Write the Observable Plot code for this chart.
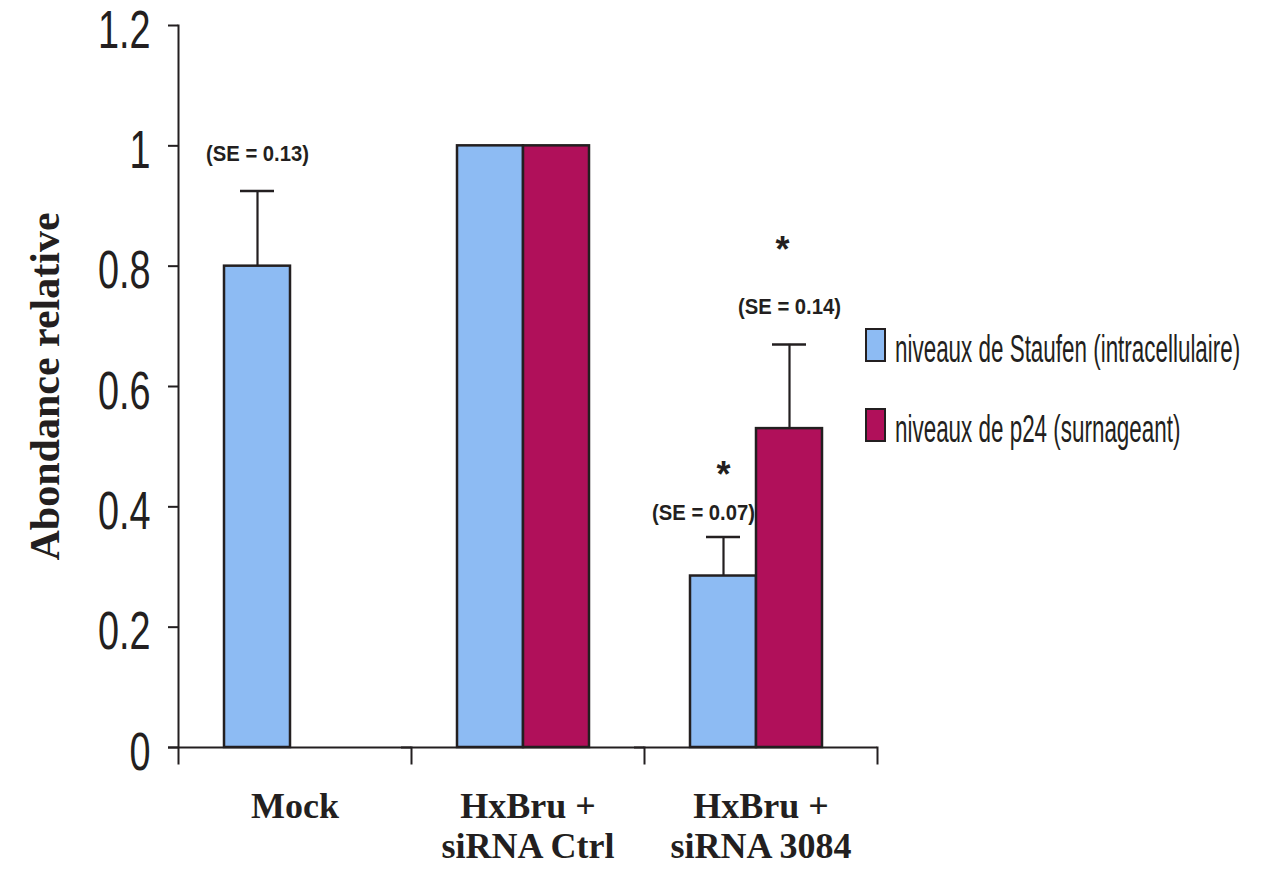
<!DOCTYPE html>
<html>
<head>
<meta charset="utf-8">
<script src="https://cdn.jsdelivr.net/npm/d3@7"></script>
<script src="https://cdn.jsdelivr.net/npm/@observablehq/plot@0.6"></script>
<style>
html, body { margin: 0; padding: 0; background: #fff; }
#wrap { position: relative; width: 1272px; height: 871px; overflow: hidden; }
#legend { position: absolute; left: 865px; top: 328px; width: 400px; font-family: "Liberation Sans Narrow", "Liberation Sans", sans-serif; font-size: 38px; color: #231f20; }
.item { display: flex; align-items: baseline; white-space: nowrap; height: 80px; }
.sw { width: 17px; height: 30px; border: 2.5px solid #231f20; flex: none; }
.lab { margin-left: 9px; display: inline-block; flex: none; transform-origin: left bottom; transform: scaleX(0.59); }
</style>
</head>
<body>
<div id="wrap"></div>
<script>
// ---- data ----
const groupKeys = ["Mock", "Ctrl", "3084"];
const groupLabels = ["Mock", "HxBru +\nsiRNA Ctrl", "HxBru +\nsiRNA 3084"];
const seriesNames = ["niveaux de Staufen (intracellulaire)", "niveaux de p24 (surnageant)"];
const seriesColors = ["#8dbbf3", "#b0105a"];
const barGroup = ["Mock", "Ctrl", "Ctrl", "3084", "3084"];
const barSeries = [0, 0, 1, 0, 1];
const barValue = [0.80, 1.00, 1.00, 0.285, 0.53];
const barSE = [0.125, 0, 0, 0.065, 0.14];
const barSELabel = ["(SE = 0.13)", null, null, "(SE = 0.07)", "(SE = 0.14)"];
const barSignificant = [false, false, false, true, true];
const yTicks = [0, 0.2, 0.4, 0.6, 0.8, 1, 1.2];
const yLabel = "Abondance relative";

// ---- table ----
const rows = barValue.map((v, i) => ({
  group: barGroup[i],
  series: seriesNames[barSeries[i]],
  value: v,
  se: barSE[i],
  top: v + barSE[i],
  label: barSELabel[i],
  sig: barSignificant[i]
}));
const errRows = rows.filter(d => d.se > 0);
const ink = "#231f20";

const W = 1272, H = 871, mL = 178, mR = 395, mT = 25, mB = 124;
const innerH = H - mT - mB;

const textFont = "Liberation Sans Narrow, Liberation Sans, sans-serif";
const serif = "Liberation Serif, Times New Roman, serif";

const chart = Plot.plot({
  width: W, height: H,
  marginLeft: mL, marginRight: mR, marginTop: mT, marginBottom: mB,
  style: { fontFamily: textFont, color: ink, background: "white", overflow: "visible" },
  fx: { domain: groupKeys, padding: 0, label: null },
  x: { domain: seriesNames, paddingInner: 0, paddingOuter: 0.739, align: 0.455, axis: null },
  y: { domain: [0, 1.2], label: null },
  color: { domain: seriesNames, range: seriesColors },
  marks: [
    Plot.barY(rows, { fx: "group", x: "series", y: "value", fill: "series", stroke: ink, strokeWidth: 2.5 }),
    Plot.ruleX(errRows, { fx: "group", x: "series", y1: "value", y2: "top", stroke: ink, strokeWidth: 2.2 }),
    Plot.tickY(errRows, { fx: "group", x: "series", y: "top", insetLeft: 16, insetRight: 16, stroke: ink, strokeWidth: 2.5 }),
    // SE labels
    Plot.text(rows.filter(d => d.label && !(d.group === "3084" && d.series === seriesNames[0])), {
      fx: "group", x: "series", y: "top", text: "label", dy: -37,
      fontSize: 22, fontWeight: "bold", fontFamily: textFont, fill: ink
    }),
    Plot.text(rows.filter(d => d.label && d.group === "3084" && d.series === seriesNames[0]), {
      fx: "group", x: "series", y: "top", text: "label", dy: -24, dx: -20,
      fontSize: 22, fontWeight: "bold", fontFamily: textFont, fill: ink
    }),
    // significance asterisks
    Plot.text(rows.filter(d => d.sig && d.series === seriesNames[0]), {
      fx: "group", x: "series", y: "top", text: () => "*", dy: -61,
      fontSize: 36, fontWeight: "bold", fontFamily: "Liberation Sans, sans-serif", fill: ink
    }),
    Plot.text(rows.filter(d => d.sig && d.series === seriesNames[1]), {
      fx: "group", x: "series", y: "top", text: () => "*", dy: -94, dx: -7,
      fontSize: 36, fontWeight: "bold", fontFamily: "Liberation Sans, sans-serif", fill: ink
    }),
    // axis lines
    Plot.ruleY([0], { insetLeft: -10, stroke: ink, strokeWidth: 2 }),
    Plot.frame({ anchor: "left", facetAnchor: "left", insetBottom: -16, stroke: ink, strokeWidth: 2 }),
    Plot.frame({ anchor: "right", insetTop: innerH, insetBottom: -16, stroke: ink, strokeWidth: 2 }),
    // y ticks (marks only)
    Plot.axisY({
      ticks: yTicks, tickSize: 10, tickFormat: () => "",
      stroke: ink, strokeWidth: 2, label: null
    }),
    // y tick labels
    Plot.axisY({
      ticks: yTicks, tickSize: 0, tickPadding: 28, tickFormat: d => String(d), dy: 5,
      fontSize: 54, fontFamily: textFont, fill: ink, label: null
    }),
    Plot.axisFx({
      anchor: "bottom", tickSize: 0, tickPadding: 42,
      tickFormat: d => groupLabels[groupKeys.indexOf(d)],
      fontSize: 36, fontWeight: "bold", fontFamily: serif, lineHeight: 1.12, fill: ink, label: null
    }),
    // y axis title
    Plot.text([{ group: "Mock" }], {
      fx: "group", text: () => yLabel, frameAnchor: "left", textAnchor: "middle", rotate: -90, dx: -133,
      fontSize: 42, fontWeight: "bold", fontFamily: serif, fill: ink
    })
  ]
});

const wrap = document.getElementById("wrap");
wrap.appendChild(chart);

// condensed look for the y tick labels
chart.querySelectorAll('g[aria-label="y-axis tick label"] text').forEach(t => {
  const w = t.getComputedTextLength();
  if (w > 0) {
    t.setAttribute("textLength", (w * 0.7).toFixed(1));
    t.setAttribute("lengthAdjust", "spacingAndGlyphs");
  }
});
// condensed look for the SE labels
chart.querySelectorAll('g[aria-label="text"] text').forEach(t => {
  if ((t.textContent || "").startsWith("(SE")) {
    const w = t.getComputedTextLength();
    t.setAttribute("textLength", (w * 0.92).toFixed(1));
    t.setAttribute("lengthAdjust", "spacingAndGlyphs");
  }
});

// legend
const legend = document.createElement("div");
legend.id = "legend";
seriesNames.forEach((name, i) => {
  const item = document.createElement("div");
  item.className = "item";
  const sw = document.createElement("span");
  sw.className = "sw";
  sw.style.background = seriesColors[i];
  const lab = document.createElement("span");
  lab.className = "lab";
  lab.textContent = name;
  item.appendChild(sw);
  item.appendChild(lab);
  legend.appendChild(item);
});
wrap.appendChild(legend);
</script>
</body>
</html>
